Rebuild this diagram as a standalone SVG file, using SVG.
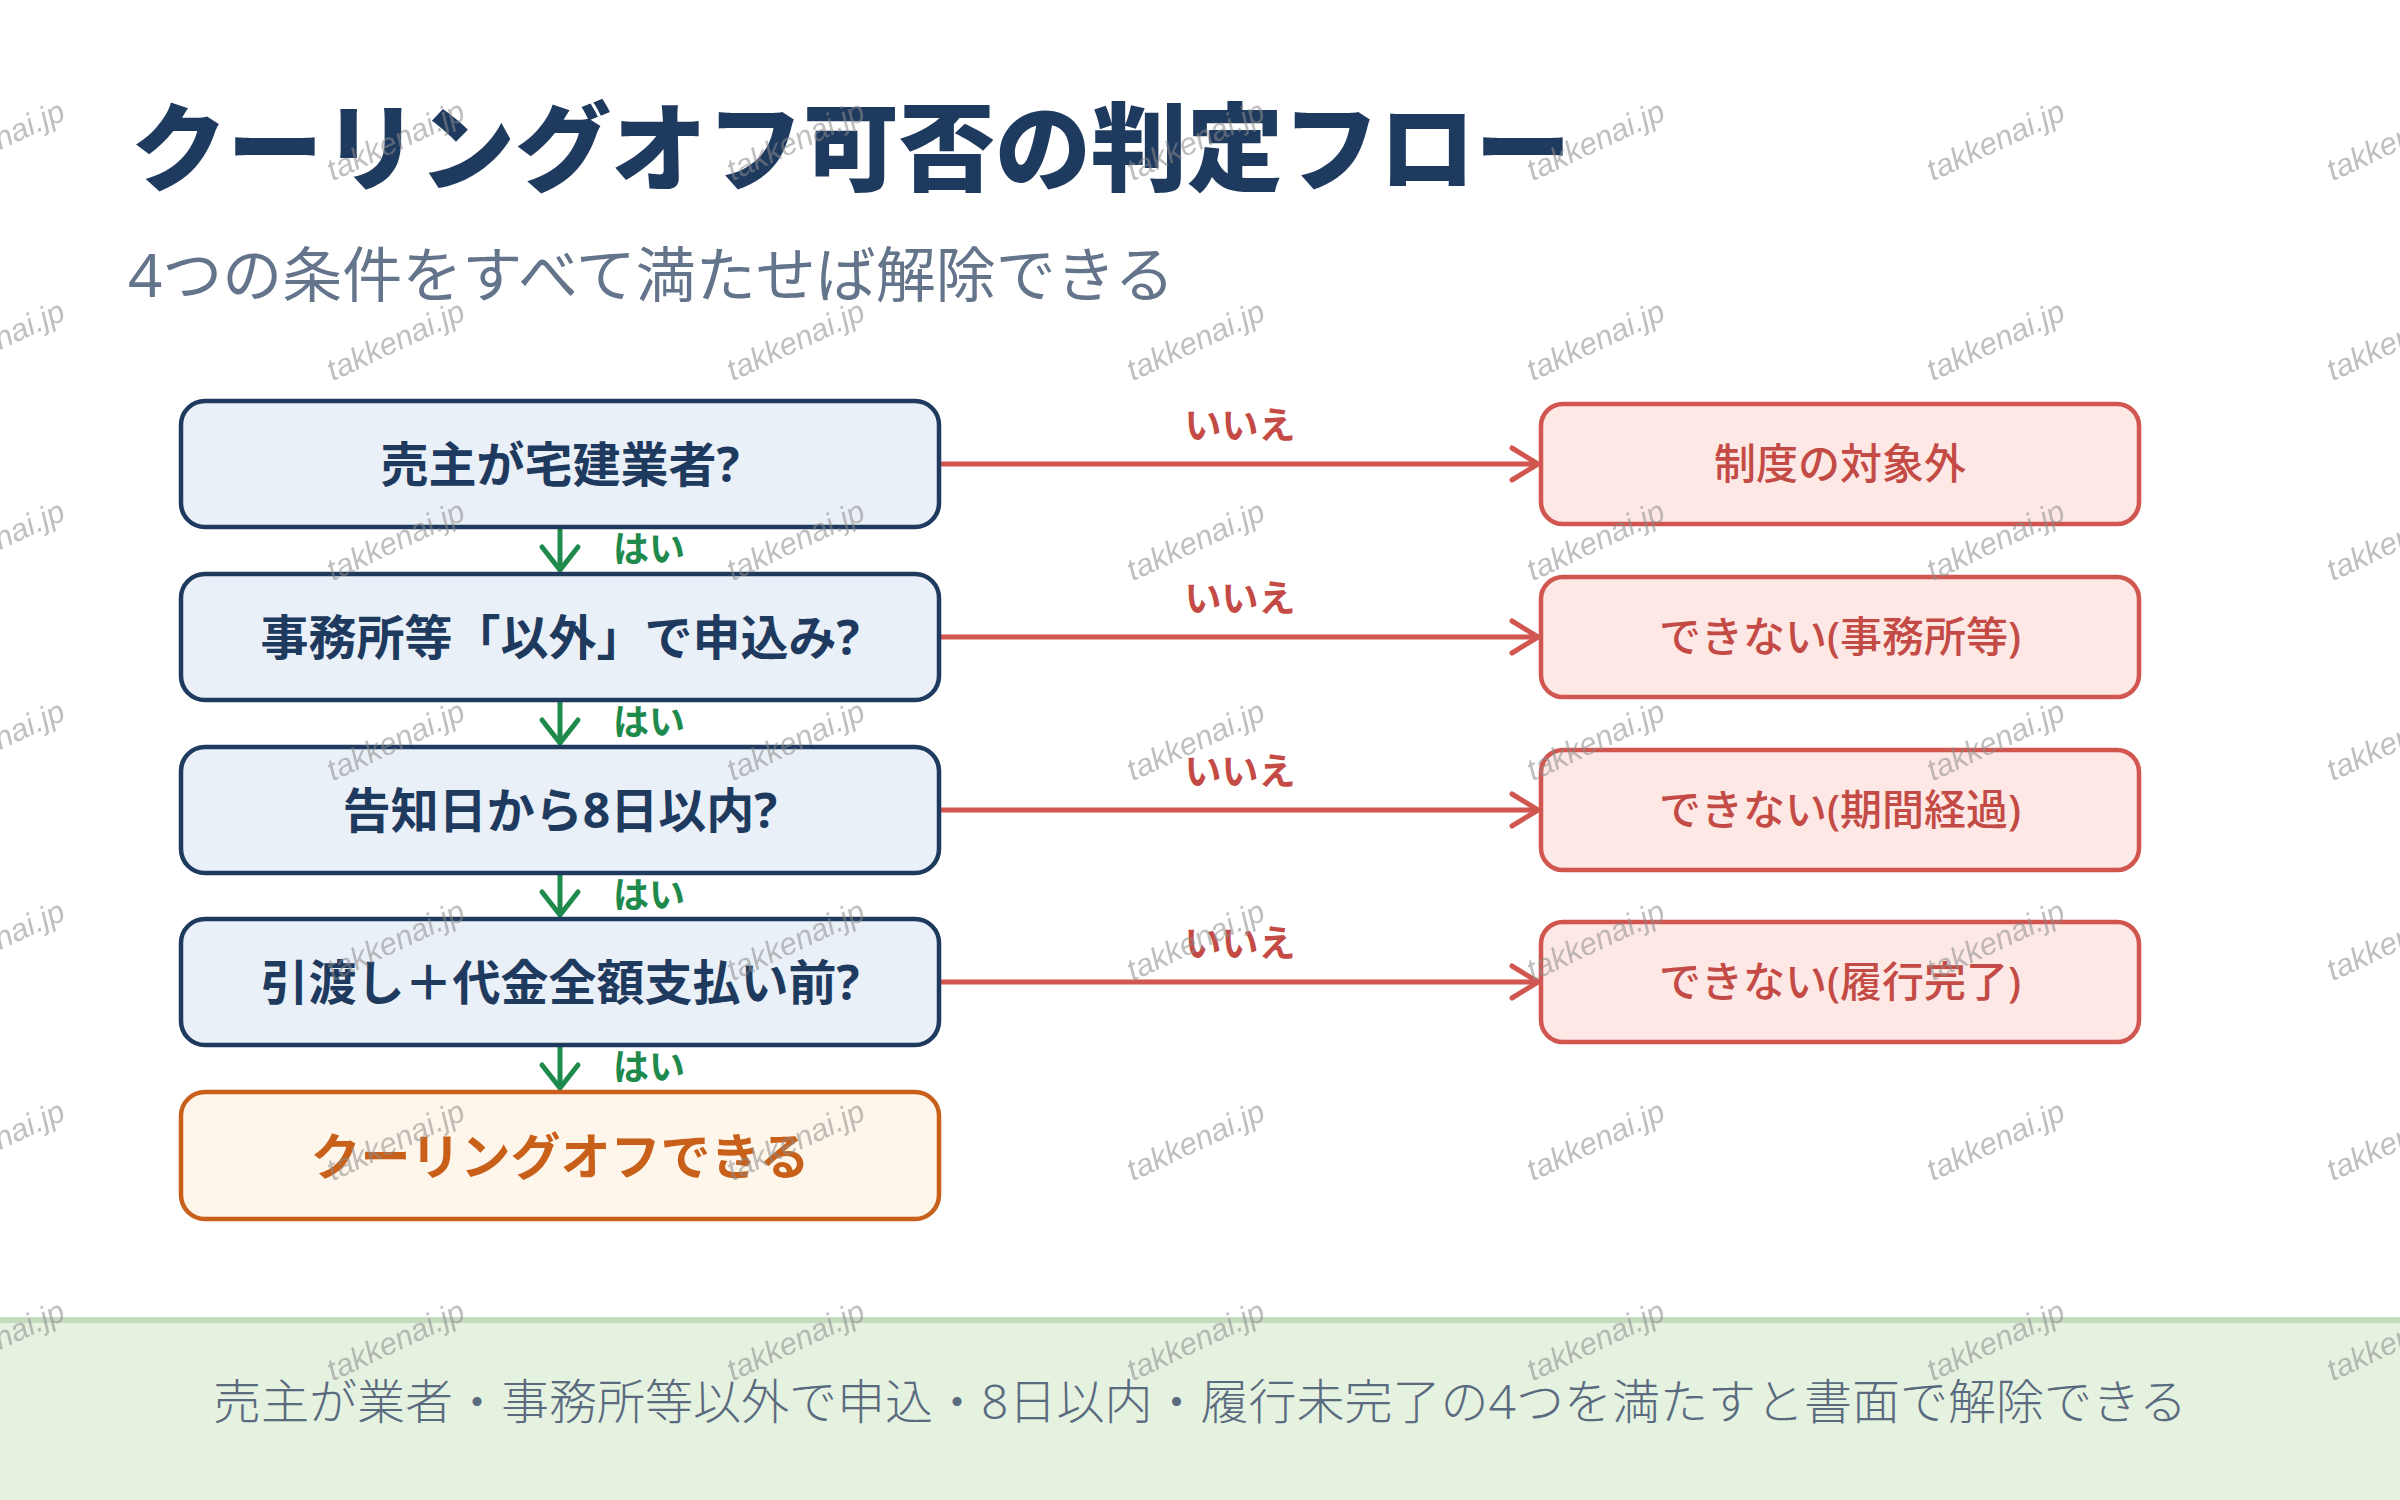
<svg xmlns="http://www.w3.org/2000/svg" width="2400" height="1500" viewBox="0 0 2400 1500">
  <style>
    .jp { font-family: "Noto Sans", "Noto Sans CJK JP", sans-serif; }
    .title { font-size: 96px; font-weight: 900; fill: #1f3a5f; }
    .sub { font-size: 60px; font-weight: 400; fill: #64748b; }
    .q rect { fill: #eaf0f7; stroke: #1f3a5f; stroke-width: 4.5; }
    .q text { font-size: 48px; font-weight: 700; fill: #1f3a5f; text-anchor: middle; }
    .ng rect { fill: #fde8e6; stroke: #d0564f; stroke-width: 4.5; }
    .ng text { font-size: 42px; font-weight: 500; fill: #c44b45; text-anchor: middle; }
    .ok rect { fill: #fef6ea; stroke: #c8601a; stroke-width: 4.5; }
    .ok text { font-size: 50px; font-weight: 700; fill: #c8601a; text-anchor: middle; }
    .no-line { stroke: #d0564f; stroke-width: 5; fill: none; }
    .yes-line { stroke: #1e8a4c; stroke-width: 5; fill: none; }
    .no-lbl { font-size: 37px; font-weight: 700; fill: #c44b45; text-anchor: middle; }
    .yes-lbl { font-size: 36px; font-weight: 700; fill: #1e8a4c; }
    .foot { font-size: 48px; font-weight: 300; fill: #5b6b7f; text-anchor: middle; }
    .wm { font-family: "Liberation Sans", "DejaVu Sans", sans-serif; font-size: 31px; font-style: italic; fill: #8a8a8a; fill-opacity: 0.55; text-anchor: middle; }
  </style>
  <defs>
    <marker id="arrRed" markerUnits="userSpaceOnUse" viewBox="-32 -22 36 44" markerWidth="36" markerHeight="44" refX="0" refY="0" orient="auto">
      <path d="M-26,-16 L0,0 L-26,16" fill="none" stroke="#d0564f" stroke-width="5" stroke-linecap="round" stroke-linejoin="round"/>
    </marker>
    <marker id="arrGreen" markerUnits="userSpaceOnUse" viewBox="-30 -24 34 48" markerWidth="34" markerHeight="48" refX="0" refY="0" orient="auto">
      <path d="M-23,-18 L0,0 L-23,18" fill="none" stroke="#1e8a4c" stroke-width="5" stroke-linecap="round" stroke-linejoin="round"/>
    </marker>
    <pattern id="wmPat" patternUnits="userSpaceOnUse" x="0" y="0" width="400" height="200">
      <text class="wm" transform="translate(0,150) rotate(-25)">takkenai.jp</text>
      <text class="wm" transform="translate(400,150) rotate(-25)">takkenai.jp</text>
    </pattern>
  </defs>

  <rect x="0" y="0" width="2400" height="1500" fill="#ffffff"/>

  <g id="header">
    <text class="jp title" x="131" y="183">クーリングオフ可否の判定フロー</text>
    <text class="jp sub" x="128" y="297">4つの条件をすべて満たせば解除できる</text>
  </g>

  <g id="connectors">
    <line class="no-line" x1="941" y1="464" x2="1538" y2="464" marker-end="url(#arrRed)"/>
    <line class="no-line" x1="941" y1="637" x2="1538" y2="637" marker-end="url(#arrRed)"/>
    <line class="no-line" x1="941" y1="810" x2="1538" y2="810" marker-end="url(#arrRed)"/>
    <line class="no-line" x1="941" y1="982" x2="1538" y2="982" marker-end="url(#arrRed)"/>
    <text class="jp no-lbl" x="1240" y="439">いいえ</text>
    <text class="jp no-lbl" x="1240" y="612">いいえ</text>
    <text class="jp no-lbl" x="1240" y="785">いいえ</text>
    <text class="jp no-lbl" x="1240" y="957">いいえ</text>
    <line class="yes-line" x1="560" y1="528" x2="560" y2="570" marker-end="url(#arrGreen)"/>
    <line class="yes-line" x1="560" y1="701" x2="560" y2="743" marker-end="url(#arrGreen)"/>
    <line class="yes-line" x1="560" y1="874" x2="560" y2="915" marker-end="url(#arrGreen)"/>
    <line class="yes-line" x1="560" y1="1046" x2="560" y2="1088" marker-end="url(#arrGreen)"/>
    <text class="jp yes-lbl" x="613" y="562">はい</text>
    <text class="jp yes-lbl" x="613" y="735">はい</text>
    <text class="jp yes-lbl" x="613" y="908">はい</text>
    <text class="jp yes-lbl" x="613" y="1080">はい</text>
  </g>

  <g id="q1" class="q">
    <rect x="181" y="401" width="758" height="126" rx="24"/>
    <text class="jp" x="560" y="482">売主が宅建業者?</text>
  </g>
  <g id="q2" class="q">
    <rect x="181" y="574" width="758" height="126" rx="24"/>
    <text class="jp" x="560" y="655">事務所等「以外」で申込み?</text>
  </g>
  <g id="q3" class="q">
    <rect x="181" y="747" width="758" height="126" rx="24"/>
    <text class="jp" x="560" y="828">告知日から8日以内?</text>
  </g>
  <g id="q4" class="q">
    <rect x="181" y="919" width="758" height="126" rx="24"/>
    <text class="jp" x="560" y="1000">引渡し＋代金全額支払い前?</text>
  </g>
  <g id="result-ok" class="ok">
    <rect x="181" y="1092" width="758" height="127" rx="24"/>
    <text class="jp" x="560" y="1175">クーリングオフできる</text>
  </g>

  <g id="ng1" class="ng">
    <rect x="1541" y="404" width="598" height="120" rx="22"/>
    <text class="jp" x="1840" y="479">制度の対象外</text>
  </g>
  <g id="ng2" class="ng">
    <rect x="1541" y="577" width="598" height="120" rx="22"/>
    <text class="jp" x="1840" y="652">できない(事務所等)</text>
  </g>
  <g id="ng3" class="ng">
    <rect x="1541" y="750" width="598" height="120" rx="22"/>
    <text class="jp" x="1840" y="825">できない(期間経過)</text>
  </g>
  <g id="ng4" class="ng">
    <rect x="1541" y="922" width="598" height="120" rx="22"/>
    <text class="jp" x="1840" y="997">できない(履行完了)</text>
  </g>

  <g id="footer">
    <rect x="0" y="1317" width="2400" height="183" fill="#e5f2e0"/>
    <rect x="0" y="1317" width="2400" height="6" fill="#c5dbc0"/>
    <text class="jp foot" x="1200" y="1419">売主が業者・事務所等以外で申込・8日以内・履行未完了の4つを満たすと書面で解除できる</text>
  </g>

  <rect id="watermark" x="0" y="0" width="2400" height="1500" fill="url(#wmPat)" pointer-events="none"/>
</svg>
